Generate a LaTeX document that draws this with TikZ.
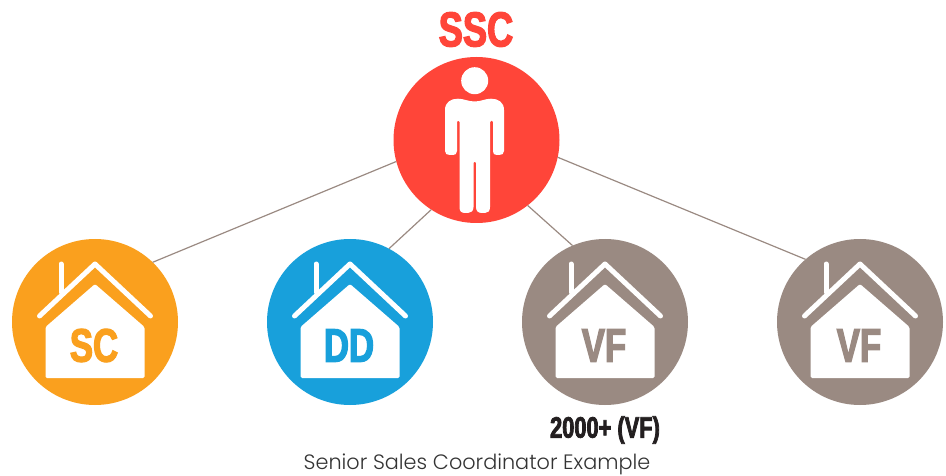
\documentclass[tikz,border=0pt]{standalone}
\usepackage{fontspec}
\setmainfont{Liberation Sans}
\newfontfamily\condfont[FakeStretch=0.74,FakeBold=2.6]{Liberation Sans Bold}
\newfontfamily\capfont{Poppins Light}
\definecolor{cred}{HTML}{FF4539}
\definecolor{corange}{HTML}{FAA01E}
\definecolor{cblue}{HTML}{18A0DB}
\definecolor{ctaupe}{HTML}{9A8A82}
\definecolor{cdark}{HTML}{231F20}
\tikzset{
  disc/.style={circle,fill=#1,minimum size=166pt,inner sep=0pt,outer sep=0pt},
  link/.style={draw=ctaupe,line width=1.2pt},
  iconline/.style={draw=white,line width=5pt,line cap=round,line join=round},
  badge/.style={font=\condfont\fontsize{47}{47}\selectfont,inner sep=0pt},
  pics/house/.style 2 args={code={
    \fill[white,rounded corners=1.5pt] (0,-38) -- (49.5,5) -- (49.5,56) -- (-49.5,56) -- (-49.5,5) -- cycle;
    \draw[iconline] (-55.5,-6) -- (0,-58) -- (55.5,-6);
    \draw[iconline] (-34,-58) -- (-34,-30);
    \node[badge,text=#2] (-label) at (-1,23.5) {#1};
  }}
}
\begin{document}
\begin{tikzpicture}[x=1pt,y=-1pt]
\useasboundingbox (0,0) rectangle (946,476);
\node[disc=cred] (ssc) at (476.5,140) {};
\node[disc=corange] (sc) at (95,322) {};
\node[disc=cblue] (dd) at (350,322) {};
\node[disc=ctaupe] (vfa) at (605,322) {};
\node[disc=ctaupe] (vfb) at (860,322) {};
\draw[link] (ssc.195.5) -- (sc.46);
\draw[link] (ssc.237) -- (dd.62.5);
\draw[link] (ssc.-52) -- (vfa.113);
\draw[link] (ssc.-12.5) -- (vfb.131);
\node[font=\condfont\fontsize{49}{49}\selectfont,text=cred,inner sep=0pt] (ssctitle) at (476,29.5) {SSC};
\fill[white] (474.7,80.7) circle (13.5);
\fill[white] (445,110) .. controls (445,102) and (451,98.7) .. (458,98.7)
  .. controls (464,98.7) and (468,101.5) .. (474.7,101.5)
  .. controls (481,101.5) and (485,98.7) .. (491,98.7)
  .. controls (498,98.7) and (504,102) .. (504,110)
  -- (504,151) .. controls (504,154) and (502,155) .. (499,155)
  -- (497,155) .. controls (494,155) and (493,154) .. (493,151)
  -- (493,122) .. controls (493,120) and (490,120) .. (490,122)
  -- (490,207) .. controls (490,211) and (488,213) .. (485,213)
  -- (482,213) .. controls (478,213) and (476,211) .. (476,207)
  -- (476,163) .. controls (476,161) and (473.5,161) .. (473.5,163)
  -- (473.5,207) .. controls (473.5,211) and (471,213) .. (468,213)
  -- (465,213) .. controls (461,213) and (459.5,211) .. (459.5,207)
  -- (459.5,122) .. controls (459.5,120) and (457,120) .. (457,122)
  -- (457,151) .. controls (457,154) and (455,155) .. (453,155)
  -- (450,155) .. controls (447,155) and (445,154) .. (445,151) -- cycle;
\pic (h1) at (sc) {house={SC}{corange}};
\pic (h2) at (dd) {house={DD}{cblue}};
\pic (h3) at (vfa) {house={VF}{ctaupe}};
\pic (h4) at (vfb) {house={VF}{ctaupe}};
\node[font=\condfont\fontsize{29.5}{29.5}\selectfont,text=cdark,inner sep=0pt] (count) at (605,430) {2000+ (VF)};
\node[font=\capfont\fontsize{20.8}{20.8}\selectfont,text=black!80,inner sep=0pt] (cap) at (477,464.5) {Senior Sales Coordinator Example};
\end{tikzpicture}
\end{document}
